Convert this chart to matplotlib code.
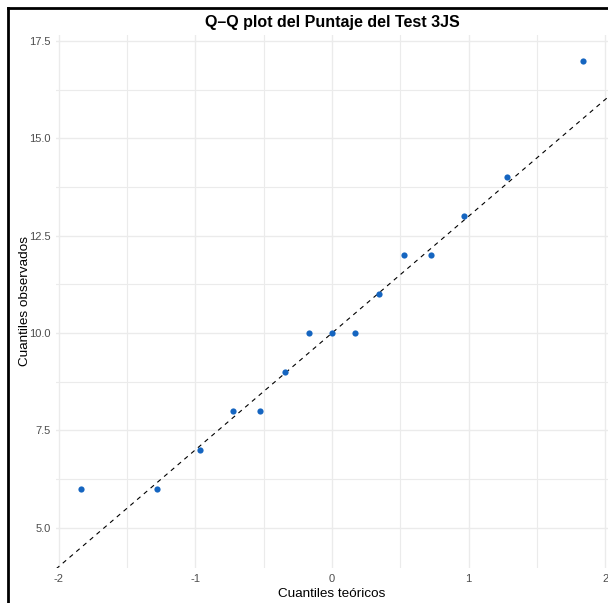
import numpy as np
import matplotlib
matplotlib.use('Agg')
import matplotlib.pyplot as plt
from matplotlib.lines import Line2D

plt.rcParams['font.family'] = ['Liberation Sans', 'DejaVu Sans']

# cuantiles teoricos (normal) y puntajes observados
teoricos = [-1.834, -1.282, -0.967, -0.728, -0.524, -0.341, -0.168, 0.0,
            0.168, 0.341, 0.524, 0.728, 0.967, 1.282, 1.834]
observados = [6, 6, 7, 8, 8, 9, 10, 10, 10, 11, 12, 12, 13, 14, 17]

# linea de referencia
intercepto = 10.0
pendiente = 3.0

xticks = [-2, -1, 0, 1, 2]
yticks = [5.0, 7.5, 10.0, 12.5, 15.0, 17.5]

fig = plt.figure(figsize=(6.08, 6.03), dpi=100)
ax = fig.add_axes([56/608, 1-568/603, 1-56/608, (568-35)/603])

ax.set_xlim(-2.02, 2.02)
ax.set_ylim(3.965, 17.655)

# rejilla estilo theme_minimal
for x in np.arange(-2, 2.01, 0.5):
    ax.axvline(x, color='#ebebeb', lw=1.0 if x == int(x) else 0.8, zorder=0)
for y in np.arange(5.0, 17.6, 1.25):
    ax.axhline(y, color='#ebebeb', lw=1.0 if y in yticks else 0.8, zorder=0)

xs = np.array(ax.get_xlim())
ax.plot(xs, intercepto + pendiente*xs, color='black', lw=0.8,
        linestyle=(0, (4, 4)), zorder=2)
ax.scatter(teoricos, observados, s=20, color='#1565c0', zorder=3, linewidths=0)

ax.set_xticks(xticks)
ax.set_xticklabels([str(t) for t in xticks])
ax.set_yticks(yticks)
ax.set_yticklabels(['%.1f' % t for t in yticks])
ax.tick_params(length=0, labelsize=8, labelcolor='#4d4d4d', pad=4)
for s in ax.spines.values():
    s.set_visible(False)

ax.set_xlabel('Cuantiles teóricos', fontsize=9.7, labelpad=3)
ax.set_ylabel('Cuantiles observados', fontsize=9.7, labelpad=-1.5)
fig.text(332/608, 1-22/603, 'Q–Q plot del Puntaje del Test 3JS',
         ha='center', va='center', fontsize=11.5, fontweight='bold')

# marco negro (izquierda y arriba)
fig.add_artist(Line2D([8/608, 8/608], [0, 1-8/603], color='black', lw=2,
                      transform=fig.transFigure))
fig.add_artist(Line2D([8/608, 1], [1-8/603, 1-8/603], color='black', lw=2,
                      transform=fig.transFigure))

fig.savefig('out.png', dpi=100)
